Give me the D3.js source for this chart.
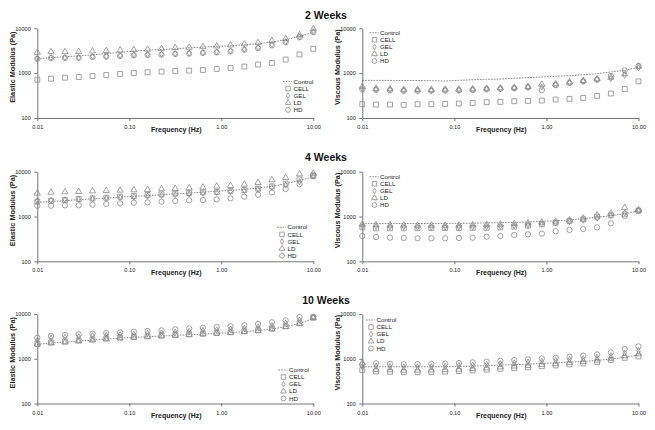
<!DOCTYPE html>
<html>
<head>
<meta charset="utf-8">
<script src="https://cdn.jsdelivr.net/npm/d3@7"></script>
<style>
html,body{margin:0;padding:0;background:#fff;}
svg{display:block;font-family:"Liberation Sans",Arial,sans-serif;}
</style>
</head>
<body>
<svg id="chart" width="655" height="430"></svg>
<script>
// ---------- data ----------
const freq = [0.01, 0.0141, 0.0200, 0.0282, 0.0398, 0.0562, 0.0794, 0.112, 0.158, 0.224, 0.316, 0.447, 0.631, 0.891, 1.26, 1.78, 2.51, 3.55, 5.01, 7.08, 10.0];
const weekTitles = ["2 Weeks", "4 Weeks", "10 Weeks"];
const seriesNames = ["Control", "CELL", "GEL", "LD", "HD"];
const xTicks = [0.01, 0.1, 1, 10];
const xTickLabels = ["0.01", "0.10", "1.00", "10.00"];
const yTicks = [100, 1000, 10000];
const yTickLabels = ["100", "1000", "10000"];
const xTitle = "Frequency (Hz)";
const yTitles = ["Elastic Modulus (Pa)", "Viscous Modulus (Pa)"];

// 2 weeks - elastic
const ctrlE2 = [2050, 2230, 2310, 2430, 2560, 2740, 2890, 3100, 3260, 3380, 3490, 3680, 3810, 3950, 4080, 4300, 4520, 4930, 5560, 6610, 8130];
const cellE2 = [714, 752, 793, 821, 864, 910, 958, 1009, 1045, 1081, 1119, 1138, 1178, 1241, 1306, 1400, 1553, 1692, 2010, 2610, 3490];
const gelE2  = [2120, 2230, 2230, 2240, 2350, 2390, 2470, 2560, 2610, 2650, 2740, 2790, 2890, 2990, 3150, 3400, 3740, 4300, 5010, 6500, 8400];
const ldE2   = [2890, 2990, 2990, 3000, 3100, 3150, 3260, 3320, 3380, 3490, 3680, 3740, 3870, 4010, 4220, 4440, 4760, 5280, 5860, 7080, 9700];
const hdE2   = [2080, 2170, 2180, 2200, 2290, 2330, 2410, 2490, 2540, 2590, 2670, 2730, 2820, 2900, 3050, 3300, 3600, 4150, 4900, 6300, 8200];
// 2 weeks - viscous
const ctrlV2 = [690, 690, 688, 686, 683, 678, 667, 690, 714, 726, 739, 765, 793, 821, 850, 880, 925, 975, 1062, 1158, 1353];
const cellV2 = [203, 199, 199, 196, 203, 203, 206, 210, 217, 225, 229, 237, 240, 245, 258, 267, 281, 312, 352, 441, 655];
const gelV2  = [449, 433, 426, 411, 411, 411, 419, 419, 426, 441, 449, 465, 489, 489, 552, 613, 667, 726, 752, 894, 1306];
const ldV2   = [500, 455, 445, 430, 428, 428, 435, 436, 444, 455, 465, 480, 500, 561, 570, 630, 680, 740, 800, 960, 1420];
const hdV2   = [430, 425, 415, 405, 405, 405, 410, 412, 420, 435, 445, 460, 480, 419, 540, 600, 655, 714, 864, 1158, 1450];
// 4 weeks - elastic
const ctrlE4 = [2070, 2170, 2270, 2380, 2480, 2590, 2700, 2810, 2930, 3060, 3200, 3340, 3490, 3660, 3830, 4030, 4320, 4720, 5380, 6350, 7730];
const cellE4 = [2150, 2250, 2330, 2460, 2540, 2630, 2770, 2860, 3020, 3120, 3250, 3330, 3460, 3520, 3700, 3900, 4180, 4710, 5400, 6750, 8000];
const gelE4  = [2250, 2300, 2360, 2430, 2500, 2580, 2670, 2760, 2860, 2960, 3070, 3190, 3320, 3460, 3620, 3810, 4080, 4450, 5050, 5950, 7900];
const ldE4   = [3290, 3460, 3520, 3580, 3700, 3770, 3830, 3900, 3970, 4110, 4180, 4330, 4480, 4710, 4880, 5220, 5680, 6520, 7350, 8870, 9180];
const hdE4   = [1745, 1745, 1775, 1775, 1840, 1900, 1970, 2035, 2070, 2140, 2220, 2300, 2330, 2410, 2540, 2770, 3070, 3460, 4110, 5300, 8430];
// 4 weeks - viscous
const ctrlV4 = [704, 700, 698, 697, 697, 698, 700, 704, 710, 718, 728, 740, 754, 780, 800, 836, 896, 958, 1044, 1150, 1340];
const cellV4 = [573, 544, 544, 544, 548, 550, 552, 554, 556, 560, 573, 593, 625, 669, 728, 794, 865, 992, 1060, 1120, 1350];
const gelV4  = [614, 600, 590, 585, 580, 580, 580, 585, 590, 600, 610, 625, 645, 680, 720, 770, 830, 920, 1060, 1200, 1330];
const ldV4   = [669, 650, 640, 635, 630, 630, 630, 635, 645, 655, 670, 690, 710, 740, 780, 830, 910, 1080, 1175, 1575, 1400];
const hdV4   = [367, 349, 337, 331, 326, 326, 326, 331, 337, 355, 367, 387, 400, 414, 467, 500, 526, 573, 705, 1030, 1350];
// 10 weeks - elastic
const ctrlE10 = [2094, 2240, 2360, 2490, 2620, 2760, 2900, 3000, 3110, 3220, 3330, 3450, 3560, 3690, 3820, 4020, 4240, 4620, 5200, 6080, 8000];
const cellE10 = [2150, 2300, 2420, 2550, 2680, 2820, 2960, 3070, 3180, 3290, 3400, 3520, 3640, 3760, 3900, 4100, 4330, 4700, 5300, 6200, 8300];
const gelE10  = [2600, 2850, 3000, 3120, 3230, 3340, 3450, 3560, 3680, 3800, 3950, 4120, 4280, 4430, 4600, 4820, 5150, 5600, 6250, 7300, 8500];
const ldE10   = [2100, 2250, 2370, 2500, 2630, 2770, 2900, 3010, 3120, 3230, 3340, 3460, 3570, 3700, 3830, 4040, 4250, 4630, 5200, 6100, 8200];
const hdE10   = [2950, 3220, 3390, 3510, 3630, 3760, 3890, 4020, 4160, 4310, 4540, 4780, 4940, 5120, 5300, 5580, 5980, 6510, 7220, 8570, 8700];
// 10 weeks - viscous
const ctrlV10 = [662, 662, 662, 662, 662, 662, 662, 670, 686, 697, 722, 735, 760, 787, 813, 842, 872, 918, 984, 1072, 1208];
const cellV10 = [560, 520, 510, 500, 500, 505, 515, 530, 550, 570, 595, 620, 645, 680, 710, 750, 790, 850, 940, 1050, 1130];
const gelV10  = [660, 690, 670, 660, 660, 670, 680, 700, 720, 750, 780, 810, 840, 880, 910, 960, 1000, 1070, 1170, 1350, 1500];
const ldV10   = [800, 570, 560, 550, 550, 555, 565, 580, 600, 620, 650, 680, 700, 740, 770, 810, 860, 920, 1010, 1150, 1270];
const hdV10   = [740, 790, 770, 760, 760, 770, 780, 800, 830, 860, 900, 935, 965, 1015, 1050, 1110, 1170, 1250, 1390, 1650, 1890];

// ---------- layout ----------
const panels = [
  {row:0, col:0, data:[ctrlE2, cellE2, gelE2, ldE2, hdE2], legend:{x:288, y:81.5}},
  {row:0, col:1, data:[ctrlV2, cellV2, gelV2, ldV2, hdV2], legend:{x:374.5, y:32.7}},
  {row:1, col:0, data:[ctrlE4, cellE4, gelE4, ldE4, hdE4], legend:{x:282, y:227.3}},
  {row:1, col:1, data:[ctrlV4, cellV4, gelV4, ldV4, hdV4], legend:{x:374.5, y:176.7}},
  {row:2, col:0, data:[ctrlE10, cellE10, gelE10, ldE10, hdE10], legend:{x:283.5, y:370}},
  {row:2, col:1, data:[ctrlV10, cellV10, gelV10, ldV10, hdV10], legend:{x:371, y:320}}
];
const colX = [[37.3, 313.3], [362.3, 638.5]];
const rowY = [[28.3, 118], [171.7, 261.3], [314, 403.5]];
const titleY = [18.5, 161, 304];

const svg = d3.select("#chart");
const axisColor = "#666";
const markColor = "#8a8a8a";
const textColor = "#222";

const symbolTypes = [null, d3.symbolSquare, d3.symbolDiamond, d3.symbolTriangle, d3.symbolCircle];
const symbolSizes = [0, 24, 11, 17, 22];

function drawSymbol(g, type, size, x, y) {
  g.append("path")
    .attr("d", d3.symbol().type(symbolTypes[type]).size(size)())
    .attr("transform", `translate(${x},${y})`)
    .attr("fill", "none")
    .attr("stroke", markColor)
    .attr("stroke-width", 0.8);
}

weekTitles.forEach((t, i) => {
  svg.append("text")
    .attr("x", 326).attr("y", titleY[i])
    .attr("text-anchor", "middle")
    .attr("font-size", 10.5).attr("font-weight", "bold")
    .attr("fill", "#111")
    .text(t);
});

panels.forEach(p => {
  const x = d3.scaleLog().domain([0.01, 10]).range(colX[p.col]);
  const y = d3.scaleLog().domain([100, 10000]).range([rowY[p.row][1], rowY[p.row][0]]);
  const g = svg.append("g");

  // axes
  const xAxis = g.append("g")
    .attr("transform", `translate(0,${rowY[p.row][1]})`)
    .call(d3.axisBottom(x).tickValues(xTicks).tickSize(3).tickSizeOuter(0)
      .tickFormat((d, i) => xTickLabels[i]));
  const yAxis = g.append("g")
    .attr("transform", `translate(${colX[p.col][0]},0)`)
    .call(d3.axisLeft(y).tickValues(yTicks).tickSize(3).tickSizeOuter(0)
      .tickFormat((d, i) => yTickLabels[i]));
  [xAxis, yAxis].forEach(a => {
    a.selectAll("path.domain").attr("stroke", axisColor).attr("stroke-width", 0.9);
    a.selectAll(".tick line").attr("stroke", axisColor).attr("stroke-width", 0.9);
    a.selectAll(".tick text").attr("fill", textColor)
      .attr("font-size", 5.6).attr("font-family", "Liberation Sans, Arial, sans-serif");
  });
  xAxis.selectAll(".tick text").attr("dy", "0.9em");
  yAxis.selectAll(".tick text").attr("dx", "-0.1em");

  // axis titles
  g.append("text")
    .attr("x", (colX[p.col][0] + colX[p.col][1]) / 2 + 1)
    .attr("y", rowY[p.row][1] + 14)
    .attr("text-anchor", "middle")
    .attr("font-size", 7).attr("font-weight", "bold").attr("fill", textColor)
    .text(xTitle);
  g.append("text")
    .attr("transform", `translate(${colX[p.col][0] - 22.5},${(rowY[p.row][0] + rowY[p.row][1]) / 2 - 6}) rotate(-90)`)
    .attr("text-anchor", "middle")
    .attr("font-size", 7.3).attr("font-weight", "bold").attr("fill", textColor)
    .text(yTitles[p.col]);

  // control dotted line
  const line = d3.line().x((d, i) => x(freq[i])).y(d => y(d));
  g.append("path")
    .attr("d", line(p.data[0]))
    .attr("fill", "none")
    .attr("stroke", "#7a7a7a")
    .attr("stroke-width", 0.9)
    .attr("stroke-dasharray", "1.6,1.2");

  // markers
  for (let s = 1; s < 5; s++) {
    p.data[s].forEach((v, i) => drawSymbol(g, s, symbolSizes[s], x(freq[i]), y(v)));
  }

  // legend
  const L = p.legend;
  seriesNames.forEach((name, s) => {
    const yy = L.y + s * 7.1;
    if (s === 0) {
      g.append("line")
        .attr("x1", L.x - 5).attr("x2", L.x + 4)
        .attr("y1", yy).attr("y2", yy)
        .attr("stroke", "#7a7a7a").attr("stroke-width", 0.9)
        .attr("stroke-dasharray", "1.6,1.2");
    } else {
      drawSymbol(g, s, symbolSizes[s] * 0.85, L.x, yy);
    }
    g.append("text")
      .attr("x", L.x + 5.5).attr("y", yy)
      .attr("dy", "0.35em")
      .attr("font-size", 6.2).attr("fill", textColor)
      .text(name);
  });
});
</script>
</body>
</html>
